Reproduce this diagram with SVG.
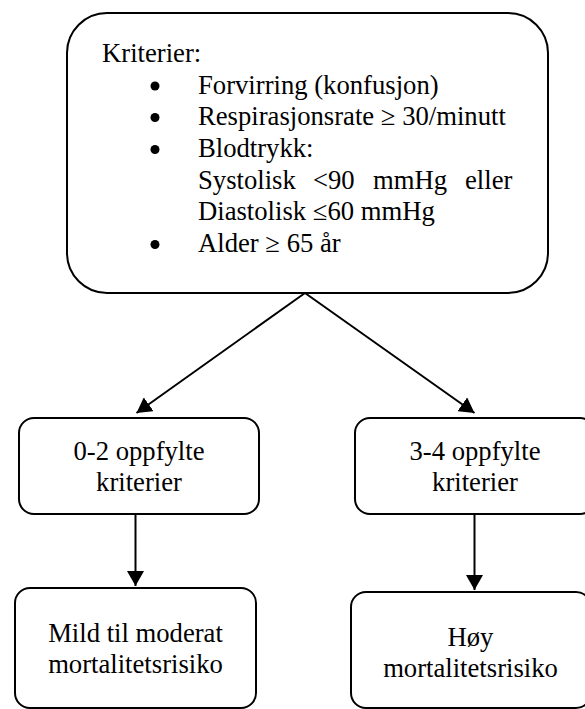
<svg xmlns="http://www.w3.org/2000/svg" width="585" height="709" viewBox="0 0 585 709">
<defs>
<style>
.box{fill:#fff;stroke:#000;stroke-width:2}
.t{font-family:"Liberation Serif","Times New Roman","DejaVu Serif",serif;font-size:26.67px;fill:#000}
.c{text-anchor:middle}
.bul{fill:#000}
.edge{stroke:#000;stroke-width:2;fill:none}
</style>
<marker id="ah" viewBox="0 0 15 17" refX="15" refY="8.5" markerWidth="15" markerHeight="17" markerUnits="userSpaceOnUse" orient="auto">
<path d="M0,0 L15,8.5 L0,17 Z" fill="#000"/>
</marker>
</defs>
<rect width="585" height="709" fill="#fff"/>
<g id="connectors">
<line class="edge" x1="305" y1="293" x2="136.5" y2="413" marker-end="url(#ah)"/>
<line class="edge" x1="305" y1="293" x2="474.5" y2="413" marker-end="url(#ah)"/>
<line class="edge" x1="135.5" y1="515" x2="135.5" y2="586" marker-end="url(#ah)"/>
<line class="edge" x1="474.5" y1="515" x2="474.5" y2="590" marker-end="url(#ah)"/>
</g>
<g id="criteria">
<rect class="box" x="67" y="13" width="481" height="280" rx="40" ry="40"/>
<text class="t" x="102" y="62">Kriterier:</text>
<circle class="bul" cx="155" cy="86" r="4.5"/>
<text class="t" x="198" y="93.5">Forvirring (konfusjon)</text>
<circle class="bul" cx="155" cy="117.5" r="4.5"/>
<text class="t" x="198" y="125">Respirasjonsrate ≥ 30/minutt</text>
<circle class="bul" cx="155" cy="149.5" r="4.5"/>
<text class="t" x="198" y="157">Blodtrykk:</text>
<text class="t" y="188.5"><tspan x="198">Systolisk</tspan><tspan x="313">&lt;90</tspan><tspan x="373">mmHg</tspan><tspan x="465">eller</tspan></text>
<text class="t" x="198" y="220">Diastolisk ≤60 mmHg</text>
<circle class="bul" cx="155" cy="244.5" r="4.5"/>
<text class="t" x="198" y="252">Alder ≥ 65 år</text>
</g>
<g id="low-criteria">
<rect class="box" x="19" y="418" width="240" height="96" rx="15" ry="15"/>
<text class="t c" x="139" y="460">0-2 oppfylte</text>
<text class="t c" x="139" y="491">kriterier</text>
</g>
<g id="high-criteria">
<rect class="box" x="355" y="418" width="240" height="96" rx="15" ry="15"/>
<text class="t c" x="475" y="460">3-4 oppfylte</text>
<text class="t c" x="475" y="491">kriterier</text>
</g>
<g id="low-risk">
<rect class="box" x="15" y="588" width="241" height="120" rx="15" ry="15"/>
<text class="t c" x="135.5" y="642">Mild til moderat</text>
<text class="t c" x="135.5" y="673">mortalitetsrisiko</text>
</g>
<g id="high-risk">
<rect class="box" x="351" y="592" width="240" height="116" rx="15" ry="15"/>
<text class="t c" x="470.5" y="646">Høy</text>
<text class="t c" x="470.5" y="677">mortalitetsrisiko</text>
</g>
</svg>
